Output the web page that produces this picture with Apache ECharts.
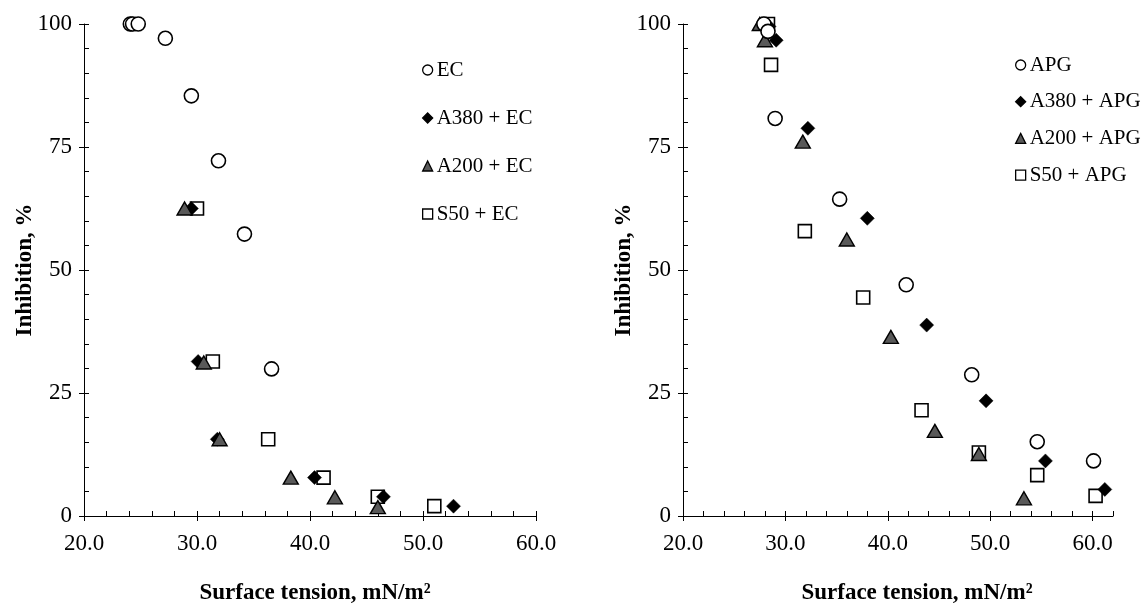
<!DOCTYPE html>
<html>
<head>
<meta charset="utf-8">
<script src="https://cdn.jsdelivr.net/npm/echarts@6/dist/echarts.min.js"></script>
<style>html,body{margin:0;padding:0;background:#fff}#c{width:1144px;height:607px}</style>
</head>
<body>
<div id="c"></div>
<script>
// ---- data ----
const xMajorTicks = [20, 30, 40, 50, 60];
const yMajorTicks = [0, 25, 50, 75, 100];
const xTitle = 'Surface tension, mN/m\u00B2';
const yTitle = 'Inhibition, %';

const leftNames = ['EC', 'A380 + EC', 'A200 + EC', 'S50 + EC'];
const leftEC   = [[24.1,100],[24.3,100],[24.8,100],[27.2,97.1],[29.5,85.4],[31.9,72.2],[34.2,57.3],[36.6,29.9]];
const leftA380 = [[29.5,62.5],[30.1,31.4],[31.8,15.6],[40.4,7.8],[46.5,3.9],[52.7,2.0]];
const leftA200 = [[28.9,62.5],[30.6,31.2],[32.0,15.6],[38.3,7.8],[42.2,3.8],[46.0,1.8]];
const leftS50  = [[30.0,62.5],[31.4,31.4],[36.3,15.6],[41.2,7.8],[46.0,3.9],[51.0,2.0]];

const rightNames = ['APG', 'A380 + APG', 'A200 + APG', 'S50 + APG'];
const rightAPG  = [[27.9,100],[28.3,98.5],[29.0,80.8],[35.3,64.4],[41.8,47.0],[48.2,28.7],[54.6,15.1],[60.1,11.2]];
const rightA380 = [[28.4,99.5],[29.1,96.7],[32.2,78.8],[38.0,60.5],[43.8,38.8],[49.6,23.4],[55.4,11.2],[61.2,5.4]];
const rightA200 = [[27.5,100],[28.0,96.7],[31.7,76.1],[36.0,56.2],[40.3,36.4],[44.6,17.3],[48.9,12.6],[53.3,3.6]];
const rightS50  = [[28.3,100],[28.6,91.7],[31.9,57.9],[37.6,44.4],[43.3,21.5],[48.9,12.9],[54.6,8.3],[60.3,4.1]];

// ---- styles ----
const FONT = 'Liberation Serif';
const styles = [
  { symbol: 'circle',   size: 14,       itemStyle: { color: '#fff', borderColor: '#000', borderWidth: 1.6, opacity: 1 } },
  { symbol: 'diamond',  size: [14, 14], itemStyle: { color: '#000', borderColor: '#000', borderWidth: 0.5, opacity: 1 } },
  { symbol: 'triangle', size: [15, 13], itemStyle: { color: '#595959', borderColor: '#000', borderWidth: 1.4, opacity: 1 } },
  { symbol: 'rect',     size: 13,       itemStyle: { color: '#fff', borderColor: '#000', borderWidth: 1.6, opacity: 1 } }
];
const legendIcons = ['circle', 'diamond', 'triangle', 'rect'];

const grids = [
  { left: 84,  top: 24, width: 452, height: 492, xMax: 60 },
  { left: 683, top: 24, width: 430, height: 492, xMax: 62 }
];

const xAxes = [], yAxes = [];
grids.forEach((g, i) => {
  // main x axis (minor ticks inside + labels)
  xAxes.push({
    type: 'value', gridIndex: i, position: 'bottom', min: 20, max: g.xMax, interval: 2,
    axisLine: { show: true, onZero: false, lineStyle: { color: '#000', width: 1 } },
    axisTick: { show: true, inside: true, length: 5, lineStyle: { color: '#000' } },
    axisLabel: { show: true, margin: 16, color: '#000', fontFamily: FONT, fontSize: 23,
      formatter: v => (xMajorTicks.indexOf(v) >= 0 ? v.toFixed(1) : '') },
    splitLine: { show: false }
  });
  // outside major ticks
  xAxes.push({
    type: 'value', gridIndex: i, position: 'bottom', min: 20, max: g.xMax, interval: 10,
    axisLine: { show: false, onZero: false },
    axisTick: { show: true, inside: false, length: 5, customValues: xMajorTicks, lineStyle: { color: '#000' } },
    axisLabel: { show: false }, splitLine: { show: false }
  });
  yAxes.push({
    type: 'value', gridIndex: i, position: 'left', min: 0, max: 100, interval: 5,
    axisLine: { show: true, onZero: false, lineStyle: { color: '#000', width: 1 } },
    axisTick: { show: true, inside: true, length: 5, lineStyle: { color: '#000' } },
    axisLabel: { show: true, margin: 12, color: '#000', fontFamily: FONT, fontSize: 23,
      formatter: v => (yMajorTicks.indexOf(v) >= 0 ? String(v) : '') },
    splitLine: { show: false }
  });
  yAxes.push({
    type: 'value', gridIndex: i, position: 'left', min: 0, max: 100, interval: 25,
    axisLine: { show: false, onZero: false },
    axisTick: { show: true, inside: false, length: 5, lineStyle: { color: '#000' } },
    axisLabel: { show: false }, splitLine: { show: false }
  });
});

function mk(name, data, k, gi) {
  const s = styles[k];
  return { name, type: 'scatter', xAxisIndex: gi * 2, yAxisIndex: gi * 2, data,
    symbol: s.symbol, symbolSize: s.size, itemStyle: s.itemStyle, silent: true };
}
// draw order: squares bottom, then diamonds, triangles, circles
const series = [
  mk(leftNames[3], leftS50, 3, 0), mk(leftNames[1], leftA380, 1, 0),
  mk(leftNames[2], leftA200, 2, 0), mk(leftNames[0], leftEC, 0, 0),
  mk(rightNames[3], rightS50, 3, 1), mk(rightNames[1], rightA380, 1, 1),
  mk(rightNames[2], rightA200, 2, 1), mk(rightNames[0], rightAPG, 0, 1)
];

function legend(names, left, top, gap) {
  return {
    orient: 'vertical', left, top, padding: 0, itemGap: gap, itemWidth: 10, itemHeight: 10,
    selectedMode: false,
    textStyle: { fontFamily: FONT, fontSize: 21, color: '#000', lineHeight: 22, padding: [0, 0, 0, -1] },
    data: names.map((n, k) => ({ name: n, icon: legendIcons[k],
      itemStyle: Object.assign({}, styles[k].itemStyle, { borderWidth: 1.3 }) }))
  };
}

const option = {
  animation: false,
  backgroundColor: '#fff',
  grid: grids.map(g => ({ left: g.left, top: g.top, width: g.width, height: g.height, containLabel: false })),
  xAxis: xAxes,
  yAxis: yAxes,
  legend: [legend(leftNames, 422, 59, 26), legend(rightNames, 1015, 54, 14.7)],
  series,
  graphic: [
    { type: 'text', x: 315, y: 593, style: { text: xTitle, fontFamily: FONT, fontSize: 23, fontWeight: 'bold', fill: '#000', align: 'center', verticalAlign: 'middle' } },
    { type: 'text', x: 917, y: 593, style: { text: xTitle, fontFamily: FONT, fontSize: 23, fontWeight: 'bold', fill: '#000', align: 'center', verticalAlign: 'middle' } },
    { type: 'text', x: 25, y: 270, rotation: Math.PI / 2, style: { text: yTitle, fontFamily: FONT, fontSize: 23, fontWeight: 'bold', fill: '#000', align: 'center', verticalAlign: 'middle' } },
    { type: 'text', x: 624, y: 270, rotation: Math.PI / 2, style: { text: yTitle, fontFamily: FONT, fontSize: 23, fontWeight: 'bold', fill: '#000', align: 'center', verticalAlign: 'middle' } }
  ]
};

const chart = echarts.init(document.getElementById('c'), null, { renderer: 'canvas' });
chart.setOption(option);
</script>
</body>
</html>
